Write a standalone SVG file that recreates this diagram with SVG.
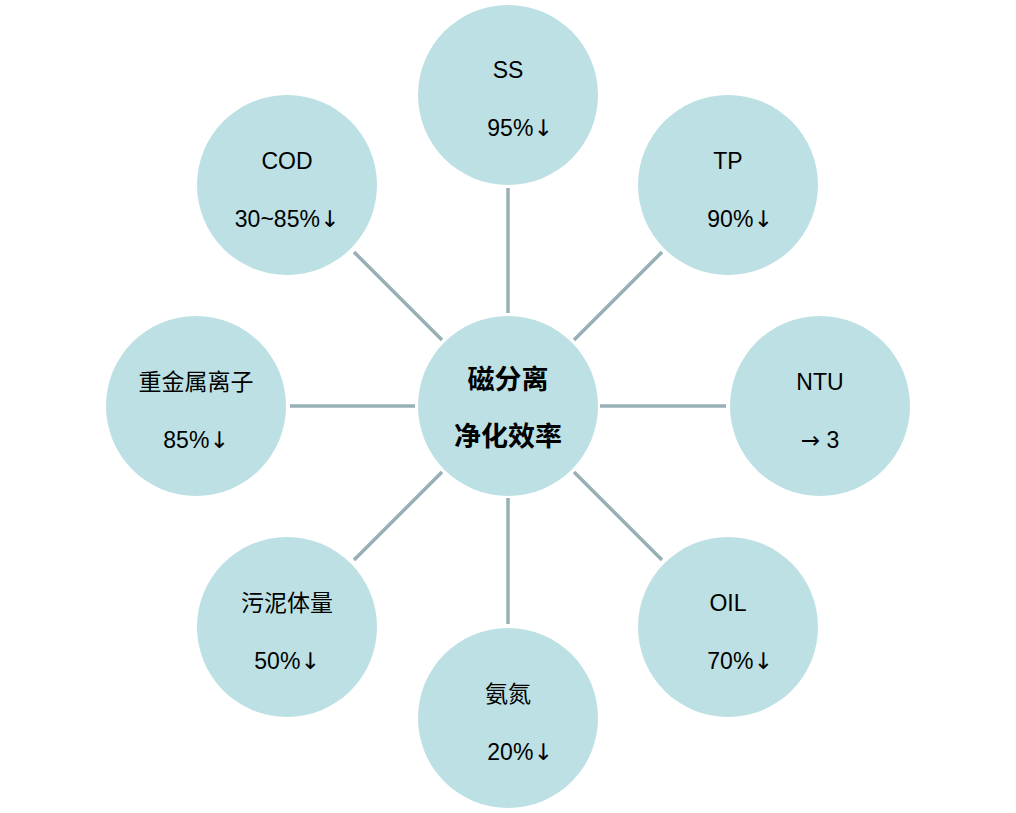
<svg xmlns="http://www.w3.org/2000/svg" width="1016" height="813" viewBox="0 0 1016 813">
<style>
.n{fill:#bce0e3}
.t{font-family:"Liberation Sans","Noto Sans CJK SC",sans-serif;font-size:23px;fill:#000;text-anchor:middle}
.a{font-family:"DejaVu Sans",sans-serif}
.c{font-family:"Noto Sans CJK SC",serif;font-size:27px;font-weight:bold;text-anchor:middle}
.l{stroke:#97b0b5;stroke-width:3.5;fill:none}
</style>
<rect width="1016" height="813" fill="#fff"/>
<g id="connectors">
<line class="l" x1="508" y1="188" x2="508" y2="313"/>
<line class="l" x1="508" y1="498" x2="508" y2="624"/>
<line class="l" x1="600" y1="406" x2="726" y2="406"/>
<line class="l" x1="290" y1="406" x2="415" y2="406"/>
<line class="l" x1="574" y1="340" x2="662" y2="252"/>
<line class="l" x1="442" y1="340" x2="354" y2="252"/>
<line class="l" x1="442" y1="472" x2="354" y2="560"/>
<line class="l" x1="574" y1="472" x2="662" y2="560"/>
</g>
<g id="center"><circle class="n" cx="508" cy="406" r="90"/><text class="c" x="508" y="389">磁分离</text><text class="c" x="508" y="446">净化效率</text></g>
<g id="ss"><circle class="n" cx="508" cy="95" r="90"/><text class="t" x="508" y="78">SS</text><text class="t" x="520" y="136">95%<tspan class="a">↓</tspan></text></g>
<g id="tp"><circle class="n" cx="728" cy="185" r="90"/><text class="t" x="728" y="169">TP</text><text class="t" x="740" y="227">90%<tspan class="a">↓</tspan></text></g>
<g id="ntu"><circle class="n" cx="820" cy="406" r="90"/><text class="t" x="820" y="390">NTU</text><text class="t" x="820" y="448"><tspan class="a">→</tspan> 3</text></g>
<g id="oil"><circle class="n" cx="728" cy="627" r="90"/><text class="t" x="728" y="611">OIL</text><text class="t" x="740" y="669">70%<tspan class="a">↓</tspan></text></g>
<g id="nh"><circle class="n" cx="508" cy="718" r="90"/><text class="t" x="508" y="702">氨氮</text><text class="t" x="520" y="760">20%<tspan class="a">↓</tspan></text></g>
<g id="sludge"><circle class="n" cx="287" cy="627" r="90"/><text class="t" x="287" y="611">污泥体量</text><text class="t" x="287" y="669">50%<tspan class="a">↓</tspan></text></g>
<g id="metal"><circle class="n" cx="196" cy="406" r="90"/><text class="t" x="196" y="390">重金属离子</text><text class="t" x="196" y="448">85%<tspan class="a">↓</tspan></text></g>
<g id="cod"><circle class="n" cx="287" cy="185" r="90"/><text class="t" x="287" y="169">COD</text><text class="t" x="287" y="227">30~85%<tspan class="a">↓</tspan></text></g>
</svg>
